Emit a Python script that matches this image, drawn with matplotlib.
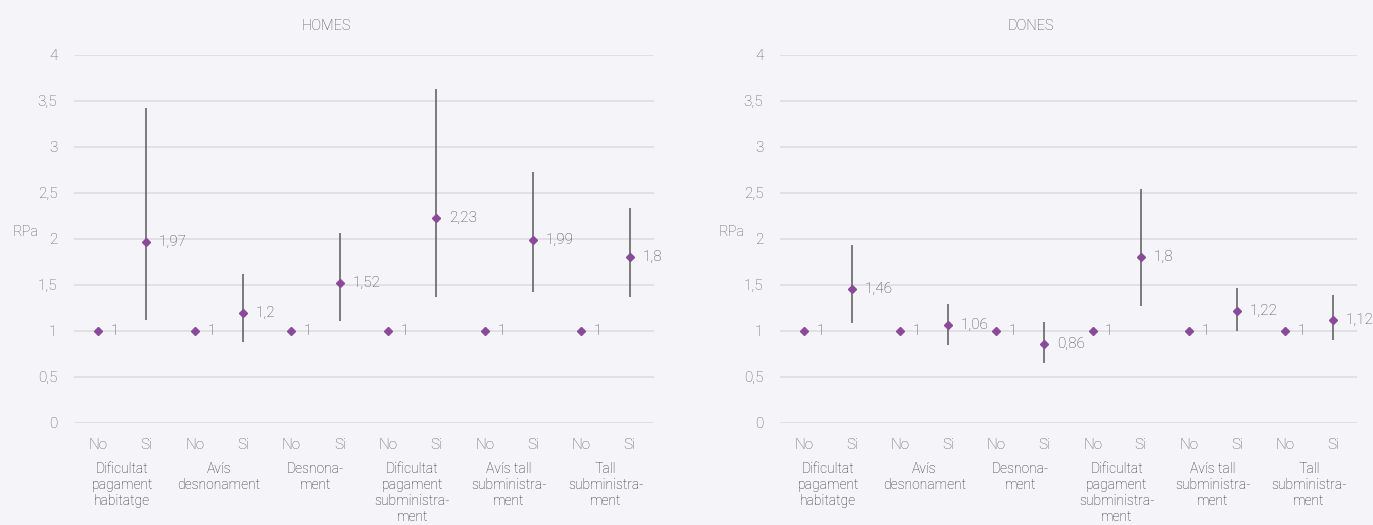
import matplotlib
matplotlib.use('Agg')
import matplotlib.pyplot as plt
import matplotlib.transforms as mtransforms

plt.rcParams['font.family'] = ['Roboto', 'DejaVu Sans']
plt.rcParams['font.weight'] = 'light'
plt.rcParams['axes.labelweight'] = 'light'
plt.rcParams['axes.titleweight'] = 'light'

# grups de la variable
categories = ['Dificultat\npagament\nhabitatge', 'Avís\ndesnonament', 'Desnona-\nment',
              'Dificultat\npagament\nsubministra-\nment', 'Avís tall\nsubministra-\nment',
              'Tall\nsubministra-\nment']
nivells = ['No', 'Si']

# HOMES: RPa (Si) i interval de confiança
homes_rpa = [1.97, 1.2, 1.52, 2.23, 1.99, 1.8]
homes_low = [1.12, 0.88, 1.11, 1.37, 1.42, 1.37]
homes_high = [3.42, 1.62, 2.07, 3.63, 2.73, 2.34]

# DONES
dones_rpa = [1.46, 1.06, 0.86, 1.8, 1.22, 1.12]
dones_low = [1.09, 0.85, 0.65, 1.27, 1.0, 0.90]
dones_high = [1.93, 1.29, 1.10, 2.54, 1.47, 1.39]

ref = 1  # categoria de referència (No)

bg = '#F5F4F8'
purple = '#8A4A9A'
txt = '#626262'
grid = '#DDDCE0'

fig = plt.figure(figsize=(13.73, 5.25), dpi=100, facecolor=bg)


def panel(ax, title, rpa, low, high):
    ax.set_facecolor(bg)
    n = len(rpa)
    x_no = [2 * i for i in range(n)]
    x_si = [2 * i + 1 for i in range(n)]

    ax.plot(x_no, [ref] * n, 'D', color=purple, ms=4.3, zorder=3)
    yerr = [[r - l for r, l in zip(rpa, low)], [h - r for r, h in zip(rpa, high)]]
    ax.errorbar(x_si, rpa, yerr=yerr, fmt='none', ecolor='#5A5A5A', elinewidth=1.1, zorder=2)
    ax.plot(x_si, rpa, 'D', color=purple, ms=4.3, zorder=3)

    for x in x_no:
        ax.annotate('1', (x, ref), xytext=(9, 0), textcoords='offset points',
                    va='center', ha='left', fontsize=11, color='#4A4A4A')
    for x, v in zip(x_si, rpa):
        ax.annotate(f'{v:g}'.replace('.', ','), (x, v), xytext=(9, 0), textcoords='offset points',
                    va='center', ha='left', fontsize=11, color='#4A4A4A')

    ax.set_xlim(-0.5, 2 * n - 0.5)
    ax.set_ylim(0, 4)
    ax.set_yticks([0, 0.5, 1, 1.5, 2, 2.5, 3, 3.5, 4])
    ax.set_yticklabels(['0', '0,5', '1', '1,5', '2', '2,5', '3', '3,5', '4'])
    ax.set_xticks(x_no + x_si)
    ax.set_xticklabels(['No'] * n + ['Si'] * n)
    ax.tick_params(axis='both', length=0, labelsize=11, labelcolor=txt)
    ax.tick_params(axis='x', pad=11)
    ax.tick_params(axis='y', pad=12)
    ax.grid(axis='y', color=grid, lw=1.2)
    ax.set_axisbelow(True)
    for s in ax.spines.values():
        s.set_visible(False)

    trans = mtransforms.blended_transform_factory(ax.transData, ax.transAxes)
    for i, c in enumerate(categories):
        ax.text(2 * i + 0.5, -0.107, c, transform=trans, ha='center', va='top',
                fontsize=10, color='#2E2E2E', linespacing=1.17)

    ax.set_title(title, fontsize=10.5, color='#555555', pad=18, x=0.435)
    ax.set_ylabel('RPa', rotation=0, fontsize=10.5, color=txt, labelpad=6)
    ax.yaxis.set_label_coords(-0.083, 0.5)


ax1 = fig.add_axes([0.0539, 0.1943, 0.4224, 0.701])
ax2 = fig.add_axes([0.5681, 0.1943, 0.4203, 0.701])
panel(ax1, 'HOMES', homes_rpa, homes_low, homes_high)
panel(ax2, 'DONES', dones_rpa, dones_low, dones_high)

fig.savefig('out.png', dpi=100, facecolor=bg)
